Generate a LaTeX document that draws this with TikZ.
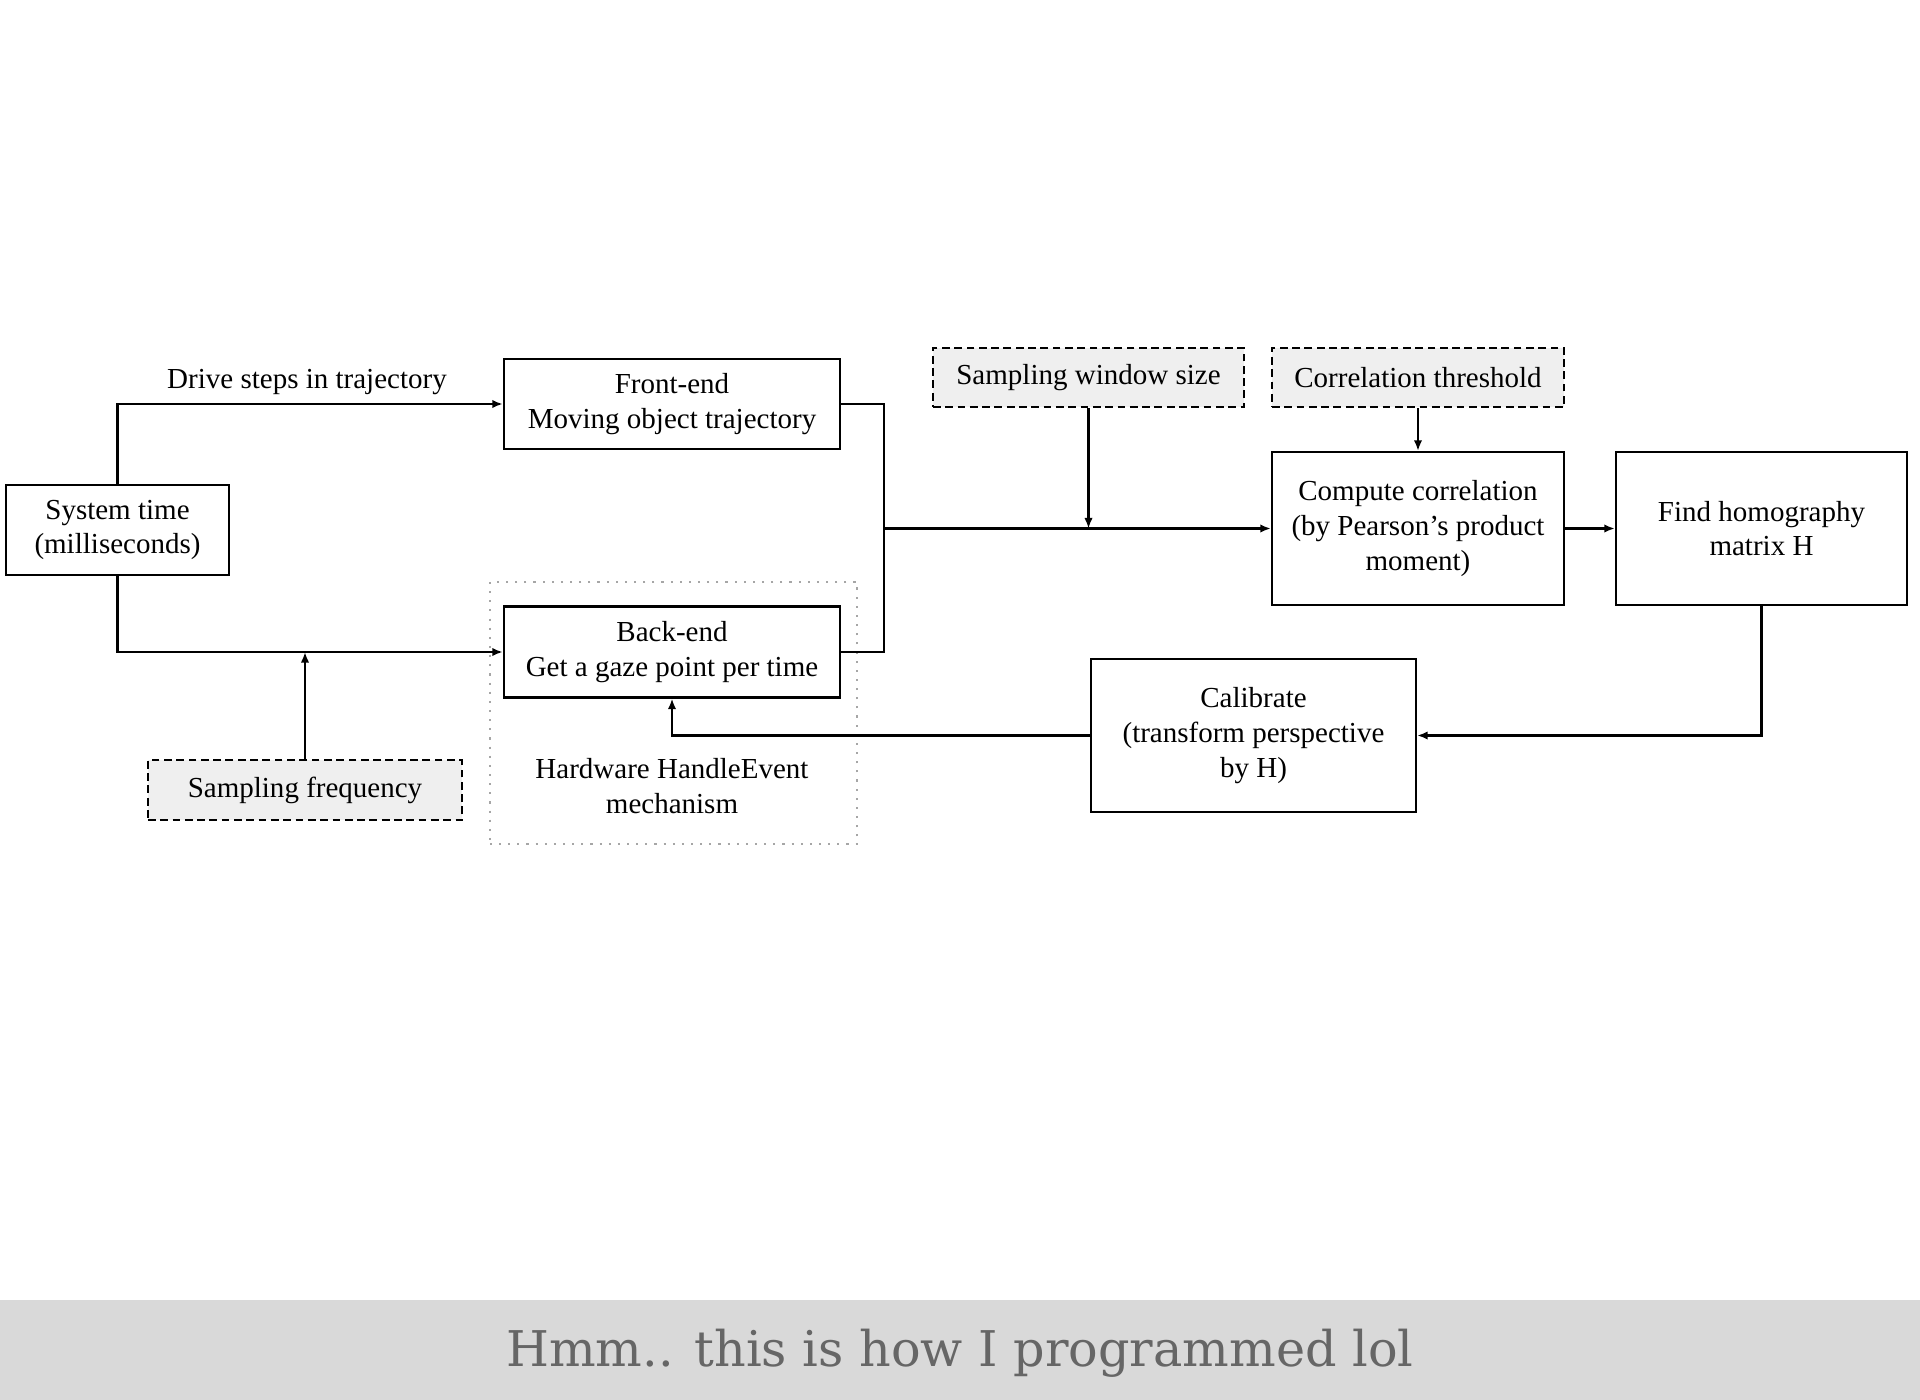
\documentclass[tikz,border=0pt]{standalone}
\usepackage{fontspec}
\setmainfont{Liberation Serif}
\newfontfamily\captionfont{DejaVu Serif}
\usetikzlibrary{arrows.meta, positioning}
\definecolor{boxgray}{HTML}{EFEFEF}
\definecolor{bandgray}{HTML}{D9D9D9}
\definecolor{captiongray}{HTML}{666666}

\tikzset{
  block/.style={draw, line width=0.6pt, align=center, inner sep=1pt,
    font=\fontsize{8.25}{9.9}\selectfont},
  param/.style={block, fill=boxgray, dash pattern=on 2.2pt off 1.3pt},
  link/.style={line width=0.6pt},
  arr/.style={link, -{Latex[length=3pt,width=2.4pt]}}
}

\begin{document}
\begin{tikzpicture}[x=0.01cm, y=-0.01cm]
    \useasboundingbox (0,0) rectangle (1920,1400);
    % caption band
    \fill[bandgray] (0,1300) rectangle (1920,1400);
    \node[text=captiongray, font=\captionfont\fontsize{14}{16}\selectfont] (caption) at (960,1353) {Hmm.. this is how I programmed lol};

    % hardware group
    \node[draw=gray!70, dotted, line width=0.6pt, minimum width=3.67cm, minimum height=2.62cm] (hwbox) at (673.5,713) {};
    \node[font=\fontsize{8.25}{9.9}\selectfont, align=center] (hwlabel) at (672,786) {Hardware HandleEvent\\mechanism};

    % boxes
    \node[block, minimum width=2.23cm, minimum height=0.9cm] (systime) at (117.5,530) {System time\\(milliseconds)};
    \node[block, fill=white, minimum width=3.36cm, minimum height=0.9cm] (frontend) at (672,404) {Front-end\\Moving object trajectory};
    \node[block, fill=white, minimum width=3.36cm, minimum height=0.91cm] (backend) at (672,652) {Back-end\\Get a gaze point per time};
    \node[param, minimum width=3.14cm, minimum height=0.6cm] (sampfreq) at (305,790) {Sampling frequency};
    \node[param, minimum width=3.11cm, minimum height=0.59cm] (sampwin) at (1088.5,377.5) {Sampling window size};
    \node[param, minimum width=2.92cm, minimum height=0.59cm] (corrthr) at (1418,377.5) {Correlation threshold};
    \node[block, minimum width=2.92cm, minimum height=1.53cm] (compcorr) at (1418,528.5) {Compute correlation\\(by Pearson’s product\\moment)};
    \node[block, minimum width=2.91cm, minimum height=1.53cm] (findhom) at (1761.5,528.5) {Find homography\\matrix H};
    \node[block, minimum width=3.25cm, minimum height=1.53cm] (calib) at (1253.5,735.5) {Calibrate\\(transform perspective\\by H)};

    % connectors
    \coordinate (join) at (884,528.5);
    \draw[arr] (systime.north) |- (frontend.west);
    \node[font=\fontsize{8.25}{9.9}\selectfont] (drivelabel) at (307,382) {Drive steps in trajectory};
    \draw[arr] (systime.south) |- (backend.west);
    \draw[arr] (sampfreq.north) -- (sampfreq.north |- backend.west);
    \draw[link] (frontend.east) -| (join) |- (backend.east);
    \draw[arr] (join) -- (compcorr.west);
    \draw[arr] (sampwin.south) -- (sampwin.south |- join);
    \draw[arr] (corrthr.south) -- (compcorr.north);
    \draw[arr] (compcorr.east) -- (findhom.west);
    \draw[arr] (findhom.south) |- (calib.east);
    \draw[arr] (calib.west) -| (backend.south);
\end{tikzpicture}
\end{document}
